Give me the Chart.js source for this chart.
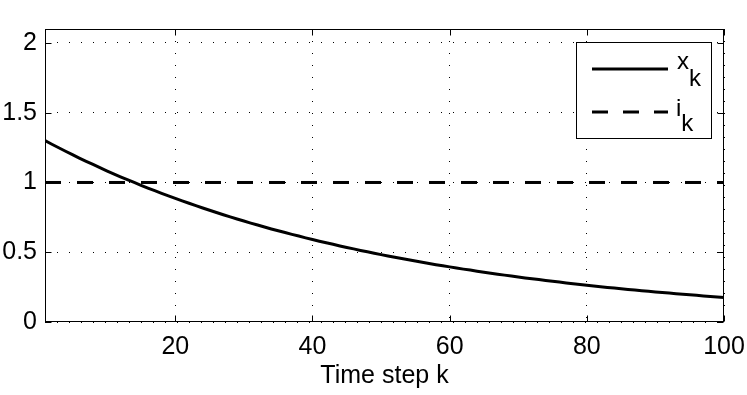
<!DOCTYPE html>
<html>
<head>
<meta charset="utf-8">
<script src="https://cdn.jsdelivr.net/npm/chart.js@4/dist/chart.umd.min.js"></script>
<style>
  html, body { margin: 0; padding: 0; background: #fff; }
  #wrap { width: 747px; height: 395px; }
</style>
</head>
<body>
<div id="wrap"><canvas id="c" width="747" height="395"></canvas></div>
<script>
// ---- data ----
const timeSteps = [
  1,2,3,4,5,6,7,8,9,10,
  11,12,13,14,15,16,17,18,19,20,
  21,22,23,24,25,26,27,28,29,30,
  31,32,33,34,35,36,37,38,39,40,
  41,42,43,44,45,46,47,48,49,50,
  51,52,53,54,55,56,57,58,59,60,
  61,62,63,64,65,66,67,68,69,70,
  71,72,73,74,75,76,77,78,79,80,
  81,82,83,84,85,86,87,88,89,90,
  91,92,93,94,95,96,97,98,99,100
];
const xkValues = [
  1.300,1.274,1.249,1.224,1.199,1.175,1.152,1.129,1.106,1.084,
  1.062,1.041,1.020,1.000,0.980,0.960,0.941,0.922,0.904,0.886,
  0.868,0.851,0.834,0.817,0.801,0.785,0.769,0.753,0.738,0.724,
  0.709,0.695,0.681,0.667,0.654,0.641,0.628,0.616,0.603,0.591,
  0.579,0.568,0.557,0.545,0.534,0.524,0.513,0.503,0.493,0.483,
  0.473,0.464,0.455,0.446,0.437,0.428,0.419,0.411,0.403,0.395,
  0.387,0.379,0.372,0.364,0.357,0.350,0.343,0.336,0.329,0.323,
  0.316,0.310,0.304,0.298,0.292,0.286,0.280,0.274,0.269,0.264,
  0.258,0.253,0.248,0.243,0.238,0.233,0.229,0.224,0.220,0.215,
  0.211,0.207,0.203,0.199,0.195,0.191,0.187,0.183,0.180,0.176
];
const ikSteps = [1, 100];
const ikValues = [1, 1];
const xTickValues = [20, 40, 60, 80, 100];
const yTickValues = [0, 0.5, 1, 1.5, 2];
const yTickLabels = ['0', '0.5', '1', '1.5', '2'];
const xAxisTitle = 'Time step k';
const legendMain = ['x', 'i'];
const legendSub = ['k', 'k'];

// ---- chart ----
const FONT = '"Liberation Sans", Arial, Helvetica, sans-serif';
const FSIZE = 25;

const boxPlugin = {
  id: 'matlabBox',
  afterDatasetsDraw(chart) {
    const ctx = chart.ctx;
    const a = chart.chartArea;
    const xs = chart.scales.x, ys = chart.scales.y;
    const L = Math.round(a.left) + 0.5, R = Math.round(a.right) - 0.5;
    const T = Math.round(a.top) + 0.5, B = Math.round(a.bottom) - 0.5;
    ctx.save();
    ctx.strokeStyle = '#000';
    ctx.lineWidth = 1;
    ctx.setLineDash([]);
    ctx.strokeRect(L, T, R - L, B - T);
    const tl = 6;
    ctx.beginPath();
    xTickValues.forEach(v => {
      const px = Math.round(xs.getPixelForValue(v)) + 0.5;
      ctx.moveTo(px, B); ctx.lineTo(px, B - tl);
      ctx.moveTo(px, T); ctx.lineTo(px, T + tl);
    });
    yTickValues.forEach(v => {
      const py = Math.round(ys.getPixelForValue(v)) + 0.5;
      ctx.moveTo(L, py); ctx.lineTo(L + tl, py);
      ctx.moveTo(R, py); ctx.lineTo(R - tl, py);
    });
    ctx.stroke();

    // legend
    const lx = 576.5, ly = 42.5, lw = 135, lh = 96;
    ctx.fillStyle = '#fff';
    ctx.fillRect(lx, ly, lw, lh);
    ctx.strokeRect(lx, ly, lw, lh);
    ctx.lineWidth = 3;
    ctx.beginPath();
    ctx.moveTo(592, 69); ctx.lineTo(668, 69);
    ctx.stroke();
    ctx.setLineDash([16, 15]);
    ctx.beginPath();
    ctx.moveTo(592, 112); ctx.lineTo(668, 112);
    ctx.stroke();
    ctx.setLineDash([]);
    ctx.fillStyle = '#000';
    ctx.textAlign = 'left';
    ctx.textBaseline = 'alphabetic';
    ctx.font = '24px ' + FONT;
    ctx.fillText(legendMain[0], 677, 69);
    const w0 = ctx.measureText(legendMain[0]).width;
    ctx.fillText(legendSub[0], 677 + w0, 86);
    ctx.fillText(legendMain[1], 676, 116);
    const w1 = ctx.measureText(legendMain[1]).width;
    ctx.fillText(legendSub[1], 676 + w1, 131);
    ctx.restore();
  }
};

new Chart(document.getElementById('c'), {
  type: 'line',
  data: {
    datasets: [
      {
        label: 'x_k',
        data: timeSteps.map((k, i) => ({ x: k, y: xkValues[i] })),
        borderColor: '#000',
        borderWidth: 3,
        pointRadius: 0,
        fill: false,
        tension: 0
      },
      {
        label: 'i_k',
        data: ikSteps.map((k, i) => ({ x: k, y: ikValues[i] })),
        borderColor: '#000',
        borderWidth: 3,
        borderDash: [16, 16],
        pointRadius: 0,
        fill: false,
        tension: 0
      }
    ]
  },
  options: {
    responsive: false,
    animation: false,
    events: [],
    layout: { padding: { left: 0, top: 29, right: 23, bottom: 0 } },
    plugins: { legend: { display: false }, tooltip: { enabled: false } },
    scales: {
      x: {
        type: 'linear',
        min: 1,
        max: 100,
        afterBuildTicks: s => { s.ticks = xTickValues.map(v => ({ value: v })); },
        afterFit: s => { s.height = 73; s.paddingLeft = 0; s.paddingRight = 0; },
        ticks: {
          color: '#000',
          font: { family: FONT, size: FSIZE },
          padding: 10,
          maxRotation: 0,
          autoSkip: false,
          callback: v => String(v)
        },
        grid: { color: '#000', lineWidth: 1, drawTicks: false },
        border: { display: false, dash: [1, 11] },
        title: {
          display: true,
          text: xAxisTitle,
          color: '#000',
          font: { family: FONT, size: FSIZE },
          padding: { top: 0, bottom: 3.5 }
        }
      },
      y: {
        type: 'linear',
        min: 0,
        max: 2.1,
        afterBuildTicks: s => { s.ticks = yTickValues.map(v => ({ value: v })); },
        afterFit: s => { s.width = 45; s.paddingTop = 0; s.paddingBottom = 0; },
        ticks: {
          color: '#000',
          font: { family: FONT, size: FSIZE },
          padding: 8,
          autoSkip: false,
          callback: (v, i) => yTickLabels[i]
        },
        grid: { color: '#000', lineWidth: 1, drawTicks: false },
        border: { display: false, dash: [1, 11] }
      }
    }
  },
  plugins: [boxPlugin]
});
</script>
</body>
</html>
